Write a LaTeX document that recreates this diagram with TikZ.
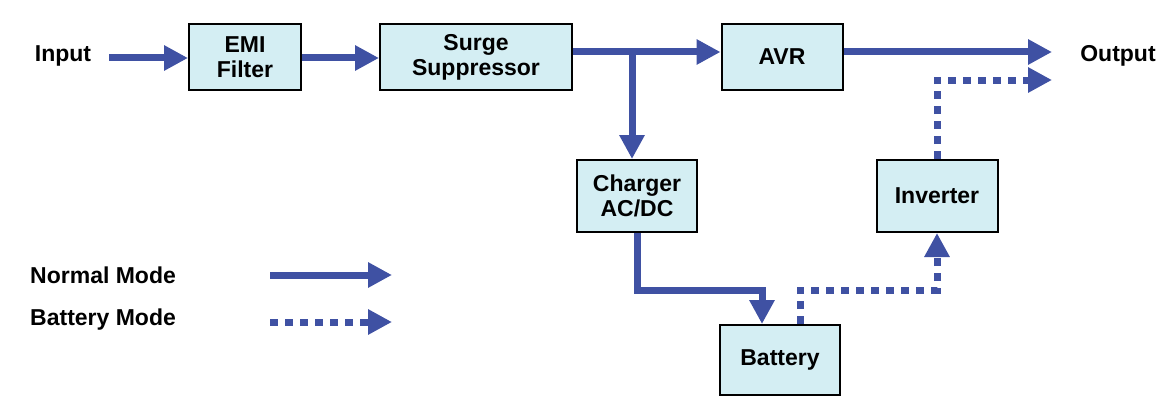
\documentclass[tikz,border=0pt]{standalone}
\usepackage{fontspec}
\setmainfont{Liberation Sans}
\usetikzlibrary{arrows.meta, positioning}
\definecolor{UPSBlue}{RGB}{63,81,163}
\definecolor{UPSFill}{RGB}{212,238,243}

\begin{document}
\begin{tikzpicture}[x = 1pt, y = -1pt]%
    %
    \tikzstyle{block} = [draw = black, line width = 2pt, fill = UPSFill, font = \fontsize{23}{25}\selectfont\bfseries, align = center, inner sep = 0pt]%
    \tikzstyle{label} = [font = \fontsize{23}{25}\selectfont\bfseries, inner sep = 0pt]%
    \tikzstyle{normal} = [UPSBlue, line width = 7pt, -{Triangle[length = 24pt, width = 24pt]}]%
    \tikzstyle{battery} = [normal, dash pattern = on 8pt off 7pt]%
    %
    \useasboundingbox (0, 0) rectangle (1172, 420);%
    %
    % Blocks
    \node (emi) [block, minimum width = 112pt, minimum height = 65pt] at (245, 57) {EMI\\Filter};%
    \node (surge) [block, minimum width = 192pt, minimum height = 65pt] at (476, 57) {Surge\\Suppressor};%
    \node (avr) [block, minimum width = 121pt, minimum height = 65pt] at (782, 57) {AVR};%
    \node (charger) [block, minimum width = 120pt, minimum height = 72pt] at (637, 196) {Charger\\AC/DC};%
    \node (inverter) [block, minimum width = 121pt, minimum height = 72pt] at (937, 196) {Inverter};%
    \node (battery) [block, minimum width = 120pt, minimum height = 70pt] at (780, 360) {Battery};%
    %
    % Labels
    \node (input) [label] at (63, 56) {Input};%
    \node (output) [label] at (1118, 56) {Output};%
    \node (normaltext) [label, anchor = west] at (30, 275) {Normal Mode};%
    \node (batterytext) [label, anchor = west] at (30, 320) {Battery Mode};%
    %
    \coordinate (outA) at (1052, 52);%
    \coordinate (outB) at (1052, 80);%
    \coordinate (normalA) at (270, 275);%
    \coordinate (normalB) at (392, 275);%
    \coordinate (batteryA) at (270, 322);%
    \coordinate (batteryB) at (392, 322);%
    %
    % Normal mode
    \draw [normal] (input.east) ++(18, 2) -- (emi.west |- 0, 58);%
    \draw [normal] (emi.east |- 0, 58) -- (surge.west |- 0, 58);%
    \draw [normal] (surge.east |- 0, 52) -- (avr.west |- 0, 52);%
    \draw [normal] (632, 52) -- (charger.north -| 632, 0);%
    \draw [normal] (avr.east |- 0, 52) -- (outA);%
    \draw [normal] (charger.south) -- (637, 290) -- (762, 290) -- (battery.north -| 762, 0);%
    %
    % Battery mode
    \draw [battery] (battery.north -| 800, 0) -- (800, 290) -- (937, 290) -- (inverter.south);%
    \draw [battery] (inverter.north) -- (937, 80) -- (outB);%
    %
    % Legend
    \draw [normal] (normalA) -- (normalB);%
    \draw [battery] (batteryA) -- (batteryB);%
    %
\end{tikzpicture}
\end{document}
